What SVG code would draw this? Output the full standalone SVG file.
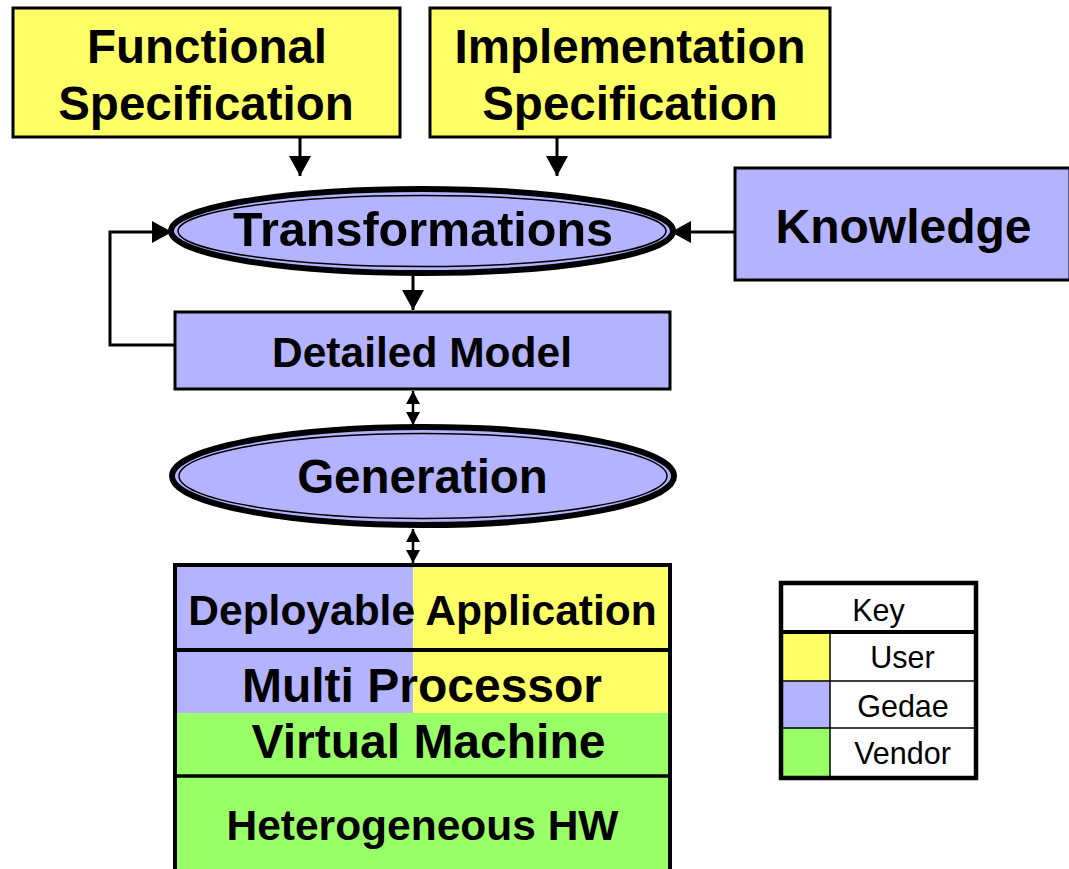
<svg xmlns="http://www.w3.org/2000/svg" width="1069" height="869" viewBox="0 0 1069 869">
  <style>
    .bold { font-family: "Liberation Sans", Arial, sans-serif; font-weight: bold; fill: #000; text-anchor: middle; }
    .reg { font-family: "Liberation Sans", Arial, sans-serif; fill: #000; text-anchor: middle; font-size: 30.5px; }
    .user { fill: #FFFF66; }
    .gedae { fill: #B3B3FF; }
    .vendor { fill: #99FF66; }
    .box { stroke: #000; stroke-width: 3; }
    .wire { fill: none; stroke: #000; stroke-width: 3; }
    .wire2 { fill: none; stroke: #000; stroke-width: 2.5; }
  </style>
  <defs>
    <marker id="head" markerUnits="userSpaceOnUse" markerWidth="22" markerHeight="24" refX="20" refY="12" orient="auto">
      <path d="M0,1 L20,12 L0,23 z" fill="#000"/>
    </marker>
    <marker id="headSmall" markerUnits="userSpaceOnUse" markerWidth="16" markerHeight="16" refX="13" refY="8" orient="auto-start-reverse">
      <path d="M0,1 L13,8 L0,15 z" fill="#000"/>
    </marker>
  </defs>

  <rect width="1069" height="869" fill="#fff"/>

  <!-- connectors -->
  <g id="connectors">
    <line class="wire" x1="300" y1="137" x2="300" y2="176" marker-end="url(#head)"/>
    <line class="wire" x1="557" y1="137" x2="557" y2="176" marker-end="url(#head)"/>
    <line class="wire" x1="735" y1="232" x2="671" y2="232" marker-end="url(#head)"/>
    <polyline class="wire" points="175,345 110,345 110,232 172,232" marker-end="url(#head)"/>
    <line class="wire" x1="413" y1="276" x2="413" y2="310" marker-end="url(#head)"/>
    <line class="wire2" x1="413" y1="391" x2="413" y2="425" marker-start="url(#headSmall)" marker-end="url(#headSmall)"/>
    <line class="wire2" x1="413" y1="529" x2="413" y2="563" marker-start="url(#headSmall)" marker-end="url(#headSmall)"/>
  </g>

  <g id="functional-spec">
    <rect class="user box" x="13" y="8" width="387" height="129"/>
    <text class="bold" x="207" y="63" font-size="47.5">Functional</text>
    <text class="bold" x="206" y="120" font-size="47.5">Specification</text>
  </g>

  <g id="implementation-spec">
    <rect class="user box" x="430" y="8" width="400" height="129"/>
    <text class="bold" x="630" y="63" font-size="47.5">Implementation</text>
    <text class="bold" x="630" y="120" font-size="47.5">Specification</text>
  </g>

  <g id="transformations">
    <ellipse class="gedae" cx="422" cy="231" rx="251" ry="42" stroke="#000" stroke-width="6"/>
    <ellipse cx="422" cy="231" rx="244" ry="35.5" fill="none" stroke="#000" stroke-width="1.5"/>
    <text class="bold" x="423" y="246" font-size="48.5">Transformations</text>
  </g>

  <g id="knowledge">
    <rect class="gedae box" x="735" y="168" width="335" height="112"/>
    <text class="bold" x="903.5" y="243" font-size="48">Knowledge</text>
  </g>

  <g id="detailed-model">
    <rect class="gedae box" x="175" y="312" width="495" height="77"/>
    <text class="bold" x="422" y="367" font-size="42.5">Detailed Model</text>
  </g>

  <g id="generation">
    <ellipse class="gedae" cx="423" cy="476" rx="251" ry="49" stroke="#000" stroke-width="6"/>
    <ellipse cx="423" cy="476" rx="244" ry="42.5" fill="none" stroke="#000" stroke-width="1.5"/>
    <text class="bold" x="422.5" y="493" font-size="47.5">Generation</text>
  </g>

  <g id="stack">
    <rect class="gedae" x="175" y="565" width="238" height="148"/>
    <rect class="user" x="413" y="565" width="257" height="148"/>
    <rect class="vendor" x="175" y="713" width="495" height="160"/>
    <path d="M175,873 V565 H670 V873" fill="none" stroke="#000" stroke-width="4"/>
    <line x1="175" y1="650" x2="670" y2="650" stroke="#000" stroke-width="4"/>
    <line x1="175" y1="776" x2="670" y2="776" stroke="#000" stroke-width="3.5"/>
    <text class="bold" x="422.5" y="625" font-size="42.5">Deployable Application</text>
    <text class="bold" x="422" y="702" font-size="48">Multi Processor</text>
    <text class="bold" x="428.5" y="758" font-size="48">Virtual Machine</text>
    <text class="bold" x="422.5" y="840" font-size="42.5">Heterogeneous HW</text>
  </g>

  <g id="key">
    <rect x="781" y="583" width="195" height="195" fill="#fff"/>
    <rect class="user" x="781" y="632" width="49" height="49"/>
    <rect class="gedae" x="781" y="681" width="49" height="47"/>
    <rect class="vendor" x="781" y="728" width="49" height="50"/>
    <line x1="781" y1="632" x2="976" y2="632" stroke="#000" stroke-width="4"/>
    <line x1="781" y1="681" x2="976" y2="681" stroke="#000" stroke-width="1.5"/>
    <line x1="781" y1="728" x2="976" y2="728" stroke="#000" stroke-width="1.5"/>
    <line x1="830" y1="632" x2="830" y2="778" stroke="#000" stroke-width="1.5"/>
    <rect x="781" y="583" width="195" height="195" fill="none" stroke="#000" stroke-width="4.5"/>
    <text class="reg" x="878.5" y="621">Key</text>
    <text class="reg" x="902.5" y="668">User</text>
    <text class="reg" x="903" y="717">Gedae</text>
    <text class="reg" x="902.5" y="764">Vendor</text>
  </g>
</svg>
